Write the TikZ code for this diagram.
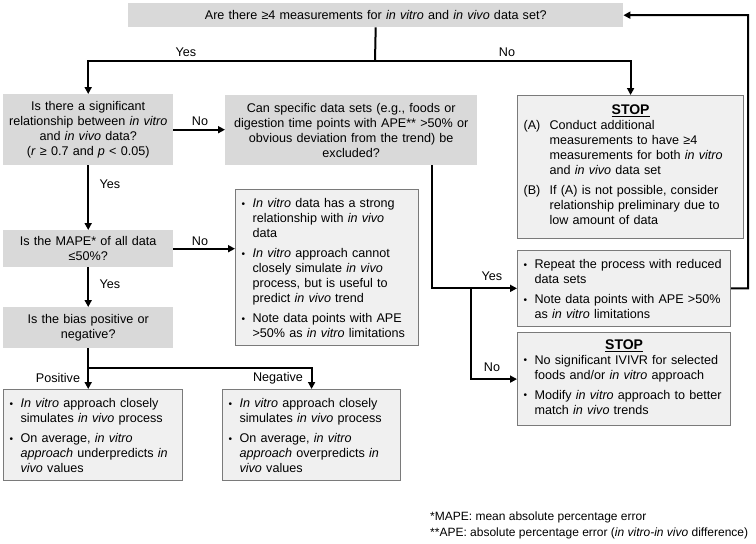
\documentclass[tikz,border=0pt]{standalone}
\usepackage{fontspec}
\setmainfont{Liberation Sans}
\usetikzlibrary{arrows.meta}
\definecolor{askgray}{HTML}{D9D9D9}
\definecolor{outgray}{HTML}{F0F0F0}
\definecolor{edgegray}{HTML}{7A7A7A}
\newcommand{\bul}[1]{\par\noindent\makebox[11pt][l]{\raisebox{0.6pt}{\scalebox{0.8}{\textbullet}}}%
  \parbox[t]{\dimexpr\hsize-11pt\relax}{\raggedright #1\strut}\par\prevdepth=\dp\strutbox}
\newcommand{\abl}[2]{\par\noindent\makebox[26pt][l]{#1}%
  \parbox[t]{\dimexpr\hsize-26pt\relax}{\raggedright #2\strut}\par\prevdepth=\dp\strutbox}
\newcommand{\gap}{\vspace{5pt}}
\newcommand{\stophead}{{\centering\fontsize{14}{16}\selectfont\textbf{\underline{STOP}}\par}}
\begin{document}
\begin{tikzpicture}[x=1pt,y=-1pt]
        \tikzstyle{every node}+=[font=\fontsize{12.6}{15}\selectfont]
        \tikzstyle{askbox}=[fill=askgray, align=center, inner sep=3pt, anchor=north west]
        \tikzstyle{outbox}=[fill=outgray, draw=edgegray, line width=1.2pt, align=left, inner xsep=6pt, inner ysep=3pt, anchor=north west]
        \tikzstyle{flow}=[black, line width=2pt, -{Triangle[length=7pt,width=7pt]}]
        \tikzstyle{lbl}=[inner sep=0pt]
        \useasboundingbox (0,0) rectangle (756,544);
        \node [askbox, minimum width=495, minimum height=24, text width=489] (q1) at (128,3)
          {Are there ≥4 measurements for \textit{in vitro} and \textit{in vivo} data set?};
        \node [askbox, minimum width=170, minimum height=71, text width=164] (q2) at (3,94)
          {Is there a significant\\ relationship between \textit{in vitro}\\ and \textit{in vivo} data?\\ (\textit{r} ≥ 0.7 and \textit{p} < 0.05)};
        \node [askbox, minimum width=252, minimum height=70, text width=246] (q3) at (225,95)
          {Can specific data sets (e.g., foods or\\ digestion time points with APE** >50\% or\\ obvious deviation from the trend) be\\ excluded?};
        \node [askbox, minimum width=170, minimum height=37, text width=164] (q4) at (3,230)
          {Is the MAPE* of all data\\ ≤50\%?};
        \node [askbox, minimum width=170, minimum height=41, text width=164] (q5) at (3,307)
          {Is the bias positive or\\ negative?};
        \node [outbox, minimum width=226, minimum height=143, text width=214] (stopA) at (517,95)
          {\stophead
           \abl{(A)}{Conduct additional\\ measurements to have ≥4\\ measurements for both \textit{in vitro}\\ and \textit{in vivo} data set}
           \gap
           \abl{(B)}{If (A) is not possible, consider\\ relationship preliminary due to\\ low amount of data}};
        \node [outbox, minimum width=183, minimum height=148, text width=171] (res1) at (235,189)
          {\bul{\textit{In vitro} data has a strong\\ relationship with \textit{in vivo}\\ data}
           \gap
           \bul{\textit{In vitro} approach cannot\\ closely simulate \textit{in vivo}\\ process, but is useful to\\ predict \textit{in vivo} trend}
           \gap
           \bul{Note data points with APE\\ >50\% as \textit{in vitro} limitations}};
        \node [outbox, minimum width=213, minimum height=75, text width=201] (rep) at (517,250)
          {\bul{Repeat the process with reduced\\ data sets}
           \gap
           \bul{Note data points with APE >50\%\\ as \textit{in vitro} limitations}};
        \node [outbox, minimum width=213, minimum height=93, text width=201] (stopB) at (517,332)
          {\stophead
           \bul{No significant IVIVR for selected\\ foods and/or \textit{in vitro} approach}
           \gap
           \bul{Modify \textit{in vitro} approach to better\\ match \textit{in vivo} trends}};
        \node [outbox, minimum width=179, minimum height=91, text width=167] (pos) at (3,389)
          {\bul{\textit{In vitro} approach closely\\ simulates \textit{in vivo} process}
           \gap
           \bul{On average, \textit{in vitro}\\ \textit{approach} underpredicts \textit{in}\\ \textit{vivo} values}};
        \node [outbox, minimum width=178, minimum height=91, text width=166] (neg) at (222,389)
          {\bul{\textit{In vitro} approach closely\\ simulates \textit{in vivo} process}
           \gap
           \bul{On average, \textit{in vitro}\\ \textit{approach} overpredicts \textit{in}\\ \textit{vivo} values}};
        \node [lbl, anchor=north west, align=left, font=\fontsize{12}{16}\selectfont] (notes) at (430,512)
          {*MAPE: mean absolute percentage error\\ **APE: absolute percentage error (\textit{in vitro-in vivo} difference)};
        \node [lbl] (yes1) at (186,52) {Yes};
        \node [lbl] (no1) at (507,52) {No};
        \node [lbl] (no2) at (200,121) {No};
        \node [lbl] (yes2) at (110,184) {Yes};
        \node [lbl] (no3) at (200,241) {No};
        \node [lbl] (yes3) at (110,284) {Yes};
        \node [lbl] (posl) at (58,378) {Positive};
        \node [lbl] (negl) at (278,378) {Negative};
        \node [lbl] (yes4) at (492,276) {Yes};
        \node [lbl] (no4) at (492,367) {No};
        \coordinate (fork1) at (375,61);
        \coordinate (fork2) at (88,368);
        \coordinate (split) at (471,287.5);
        \coordinate (back) at (748,15);
        \draw [line width=2pt] (q1.south) -- (fork1);
        \draw [flow] (fork1) -| (q2.north);
        \draw [flow] (fork1) -| (stopA.north);
        \draw [flow] (q2.east) -- (q2.east -| q3.west);
        \draw [flow] (q2.south) -- (q4.north);
        \draw [flow] (q4.east) -- (q4.east -| res1.west);
        \draw [flow] (q4.south) -- (q5.north);
        \draw [flow] (q5.south) -- (q5.south |- pos.north);
        \draw [flow] (fork2) -| (neg.north);
        \draw [flow] ([xshift=81pt]q3.south) |- (rep.west);
        \draw [flow] (split) |- (stopB.west);
        \draw [flow] (rep.east) -| (back) -- (q1.east);
\end{tikzpicture}
\end{document}
